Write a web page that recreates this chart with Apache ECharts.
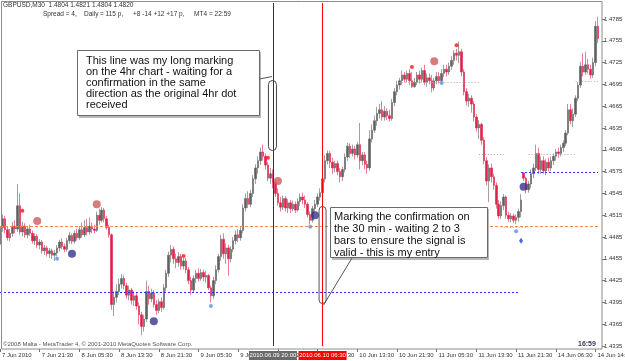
<!DOCTYPE html>
<html><head><meta charset="utf-8">
<script src="https://cdn.jsdelivr.net/npm/echarts@6/dist/echarts.min.js"></script>
<style>html,body{margin:0;padding:0;background:#fff}#c{width:625px;height:361px}</style>
</head><body><div id="c"></div>
<script>
// ---- data ----
const tickLabels = ['7 Jun 2010','7 Jun 21:30','8 Jun 05:30','8 Jun 13:30','8 Jun 21:30','9 Jun 05:30','9 Jun 13:30','9 Jun 21:30','10 Jun 05:30','10 Jun 13:30','10 Jun 21:30','11 Jun 05:30','11 Jun 13:30','11 Jun 21:30','14 Jun 06:30','14 Jun 14:30'];
// [open, close, low, high]
const candles = [
[1.4475,1.4498,1.4470,1.4502],[1.4498,1.4510,1.4492,1.4516],[1.4510,1.4495,1.4490,1.4514],[1.4495,1.4484,1.4480,1.4500],[1.4484,1.4490,1.4479,1.4496],
[1.4490,1.4500,1.4485,1.4506],[1.4500,1.4496,1.4490,1.4508],[1.4496,1.4528,1.4492,1.4558],[1.4528,1.4492,1.4488,1.4545],[1.4492,1.4500,1.4486,1.4506],
[1.4500,1.4488,1.4484,1.4504],[1.4488,1.4496,1.4483,1.4500],[1.4496,1.4490,1.4486,1.4502],[1.4490,1.4480,1.4476,1.4494],[1.4480,1.4486,1.4474,1.4490],
[1.4486,1.4474,1.4470,1.4489],[1.4474,1.4478,1.4468,1.4482],[1.4478,1.4466,1.4462,1.4481],[1.4466,1.4470,1.4460,1.4474],[1.4470,1.4462,1.4458,1.4473],
[1.4462,1.4466,1.4456,1.4470],[1.4466,1.4460,1.4455,1.4469],[1.4460,1.4463,1.4452,1.4467],[1.4463,1.4470,1.4458,1.4474],[1.4470,1.4478,1.4465,1.4481],
[1.4478,1.4472,1.4468,1.4483],[1.4472,1.4468,1.4464,1.4476],[1.4468,1.4480,1.4465,1.4484],[1.4480,1.4487,1.4476,1.4492],[1.4487,1.4479,1.4475,1.4490],
[1.4479,1.4490,1.4476,1.4494],[1.4490,1.4484,1.4480,1.4496],[1.4484,1.4495,1.4481,1.4500],[1.4495,1.4488,1.4484,1.4505],[1.4488,1.4498,1.4485,1.4508],
[1.4498,1.4492,1.4487,1.4510],[1.4492,1.4500,1.4488,1.4512],[1.4500,1.4496,1.4490,1.4505],[1.4496,1.4494,1.4490,1.4502],[1.4494,1.4515,1.4492,1.4520],
[1.4515,1.4508,1.4502,1.4524],[1.4508,1.4522,1.4505,1.4526],[1.4522,1.4510,1.4505,1.4525],[1.4510,1.4498,1.4495,1.4514],[1.4498,1.4488,1.4484,1.4502],
[1.4488,1.4392,1.4385,1.4490],[1.4392,1.4402,1.4376,1.4410],[1.4402,1.4410,1.4395,1.4420],[1.4410,1.4420,1.4405,1.4428],[1.4420,1.4428,1.4414,1.4434],
[1.4428,1.4418,1.4413,1.4432],[1.4418,1.4405,1.4400,1.4422],[1.4405,1.4412,1.4398,1.4418],[1.4412,1.4398,1.4392,1.4415],[1.4398,1.4404,1.4390,1.4410],
[1.4404,1.4390,1.4385,1.4408],[1.4390,1.4378,1.4365,1.4395],[1.4378,1.4362,1.4350,1.4382],[1.4362,1.4372,1.4355,1.4378],[1.4372,1.4410,1.4368,1.4425],
[1.4410,1.4400,1.4392,1.4418],[1.4400,1.4408,1.4395,1.4414],[1.4408,1.4392,1.4388,1.4412],[1.4392,1.4384,1.4378,1.4398],[1.4384,1.4396,1.4380,1.4400],
[1.4396,1.4388,1.4382,1.4402],[1.4388,1.4415,1.4385,1.4420],[1.4415,1.4435,1.4410,1.4440],[1.4435,1.4460,1.4430,1.4465],[1.4460,1.4468,1.4450,1.4474],
[1.4468,1.4455,1.4448,1.4472],[1.4455,1.4450,1.4442,1.4462],[1.4450,1.4458,1.4444,1.4464],[1.4458,1.4445,1.4440,1.4462],[1.4445,1.4452,1.4440,1.4456],
[1.4452,1.4440,1.4435,1.4456],[1.4440,1.4425,1.4420,1.4444],[1.4425,1.4412,1.4405,1.4430],[1.4412,1.4428,1.4408,1.4432],[1.4428,1.4435,1.4422,1.4440],
[1.4435,1.4428,1.4424,1.4442],[1.4428,1.4436,1.4425,1.4441],[1.4436,1.4430,1.4424,1.4440],[1.4430,1.4432,1.4422,1.4438],[1.4432,1.4415,1.4412,1.4434],
[1.4415,1.4404,1.4395,1.4418],[1.4404,1.4425,1.4400,1.4430],[1.4425,1.4440,1.4420,1.4446],[1.4440,1.4458,1.4436,1.4462],[1.4458,1.4482,1.4452,1.4488],
[1.4482,1.4462,1.4455,1.4490],[1.4462,1.4470,1.4448,1.4476],[1.4470,1.4455,1.4432,1.4474],[1.4455,1.4468,1.4450,1.4472],[1.4468,1.4480,1.4464,1.4485],
[1.4480,1.4488,1.4475,1.4494],[1.4488,1.4484,1.4478,1.4496],[1.4484,1.4494,1.4480,1.4500],[1.4494,1.4525,1.4490,1.4530],[1.4525,1.4538,1.4520,1.4545],
[1.4538,1.4530,1.4525,1.4548],[1.4530,1.4545,1.4526,1.4550],[1.4545,1.4565,1.4540,1.4570],[1.4565,1.4580,1.4558,1.4585],[1.4580,1.4590,1.4572,1.4596],
[1.4590,1.4602,1.4584,1.4608],[1.4602,1.4596,1.4590,1.4612],[1.4596,1.4584,1.4578,1.4600],[1.4584,1.4566,1.4562,1.4588],[1.4566,1.4572,1.4558,1.4580],
[1.4572,1.4560,1.4552,1.4578],[1.4560,1.4545,1.4540,1.4564],[1.4545,1.4532,1.4528,1.4552],[1.4532,1.4526,1.4520,1.4540],[1.4526,1.4538,1.4522,1.4542],
[1.4538,1.4525,1.4520,1.4541],[1.4525,1.4532,1.4518,1.4537],[1.4532,1.4524,1.4518,1.4536],[1.4524,1.4530,1.4520,1.4535],[1.4530,1.4522,1.4518,1.4534],
[1.4522,1.4534,1.4520,1.4538],[1.4534,1.4540,1.4528,1.4545],[1.4540,1.4536,1.4530,1.4546],[1.4536,1.4530,1.4525,1.4542],[1.4530,1.4516,1.4512,1.4533],
[1.4516,1.4508,1.4502,1.4520],[1.4508,1.4524,1.4505,1.4528],[1.4524,1.4530,1.4518,1.4536],[1.4530,1.4540,1.4526,1.4545],[1.4540,1.4546,1.4535,1.4552],
[1.4546,1.4565,1.4542,1.4570],[1.4565,1.4590,1.4560,1.4598],[1.4590,1.4600,1.4585,1.4604],[1.4600,1.4588,1.4580,1.4603],[1.4588,1.4580,1.4572,1.4594],
[1.4580,1.4586,1.4574,1.4590],[1.4586,1.4575,1.4570,1.4590],[1.4575,1.4568,1.4560,1.4580],[1.4568,1.4578,1.4562,1.4582],[1.4578,1.4595,1.4574,1.4600],
[1.4595,1.4610,1.4590,1.4615],[1.4610,1.4600,1.4594,1.4614],[1.4600,1.4606,1.4596,1.4612],[1.4606,1.4598,1.4592,1.4610],[1.4598,1.4612,1.4594,1.4616],
[1.4612,1.4590,1.4578,1.4642],[1.4590,1.4598,1.4584,1.4602],[1.4598,1.4585,1.4578,1.4602],[1.4585,1.4580,1.4572,1.4590],[1.4580,1.4620,1.4576,1.4632],
[1.4620,1.4632,1.4615,1.4640],[1.4632,1.4645,1.4628,1.4652],[1.4645,1.4655,1.4638,1.4664],[1.4655,1.4660,1.4648,1.4668],[1.4660,1.4650,1.4645,1.4672],
[1.4650,1.4658,1.4645,1.4665],[1.4658,1.4652,1.4646,1.4662],[1.4652,1.4648,1.4644,1.4660],[1.4648,1.4670,1.4645,1.4675],[1.4670,1.4685,1.4665,1.4690],
[1.4685,1.4694,1.4680,1.4700],[1.4694,1.4700,1.4688,1.4704],[1.4700,1.4708,1.4694,1.4714],[1.4708,1.4702,1.4698,1.4712],[1.4702,1.4710,1.4698,1.4714],
[1.4710,1.4700,1.4694,1.4716],[1.4700,1.4692,1.4690,1.4712],[1.4692,1.4698,1.4690,1.4704],[1.4698,1.4708,1.4694,1.4712],[1.4708,1.4702,1.4696,1.4714],
[1.4702,1.4714,1.4698,1.4718],[1.4714,1.4698,1.4694,1.4722],[1.4698,1.4704,1.4692,1.4710],[1.4704,1.4700,1.4695,1.4710],[1.4700,1.4690,1.4684,1.4708],
[1.4690,1.4700,1.4686,1.4704],[1.4700,1.4706,1.4695,1.4712],[1.4706,1.4700,1.4696,1.4712],[1.4700,1.4710,1.4698,1.4716],[1.4710,1.4716,1.4705,1.4722],
[1.4716,1.4712,1.4706,1.4722],[1.4712,1.4720,1.4708,1.4725],[1.4720,1.4728,1.4715,1.4734],[1.4728,1.4738,1.4722,1.4742],[1.4738,1.4735,1.4728,1.4744],
[1.4735,1.4740,1.4724,1.4754],[1.4740,1.4712,1.4706,1.4744],[1.4712,1.4685,1.4680,1.4716],[1.4685,1.4672,1.4666,1.4690],[1.4672,1.4676,1.4664,1.4682],
[1.4676,1.4668,1.4656,1.4680],[1.4668,1.4650,1.4644,1.4672],[1.4650,1.4635,1.4630,1.4654],[1.4635,1.4640,1.4620,1.4646],[1.4640,1.4618,1.4612,1.4642],
[1.4618,1.4590,1.4585,1.4622],[1.4590,1.4562,1.4556,1.4595],[1.4562,1.4580,1.4533,1.4585],[1.4580,1.4568,1.4560,1.4586],[1.4568,1.4556,1.4550,1.4572],
[1.4556,1.4530,1.4524,1.4560],[1.4530,1.4514,1.4510,1.4536],[1.4514,1.4528,1.4510,1.4534],[1.4528,1.4540,1.4522,1.4544],[1.4540,1.4515,1.4510,1.4542],
[1.4515,1.4510,1.4506,1.4520],[1.4510,1.4514,1.4505,1.4518],[1.4514,1.4508,1.4504,1.4517],[1.4508,1.4512,1.4503,1.4516],[1.4512,1.4520,1.4506,1.4524],
[1.4520,1.4536,1.4512,1.4544],[1.4573,1.4566,1.4562,1.4574],[1.4566,1.4550,1.4545,1.4568],[1.4550,1.4558,1.4546,1.4562],[1.4558,1.4572,1.4552,1.4578],
[1.4572,1.4580,1.4566,1.4586],[1.4580,1.4600,1.4576,1.4612],[1.4600,1.4578,1.4572,1.4608],[1.4578,1.4590,1.4572,1.4596],[1.4590,1.4576,1.4572,1.4596],
[1.4576,1.4588,1.4570,1.4592],[1.4588,1.4580,1.4575,1.4594],[1.4580,1.4590,1.4576,1.4596],[1.4590,1.4596,1.4584,1.4600],[1.4596,1.4602,1.4590,1.4606],
[1.4602,1.4600,1.4594,1.4608],[1.4600,1.4608,1.4596,1.4612],[1.4608,1.4614,1.4602,1.4618],[1.4614,1.4628,1.4610,1.4632],[1.4628,1.4660,1.4625,1.4668],
[1.4660,1.4645,1.4640,1.4668],[1.4645,1.4654,1.4636,1.4662],[1.4654,1.4676,1.4650,1.4680],[1.4676,1.4694,1.4672,1.4698],[1.4694,1.4720,1.4690,1.4726],
[1.4720,1.4712,1.4706,1.4738],[1.4712,1.4722,1.4708,1.4740],[1.4722,1.4716,1.4710,1.4730],[1.4716,1.4708,1.4703,1.4722],[1.4708,1.4725,1.4704,1.4732],
[1.4725,1.4775,1.4720,1.4782],[1.4775,1.4758,1.4752,1.4788]
];
const bigRedDots    = [[15,1.4507],[39,1.4530],[112,1.4562],[175,1.4727]];
const darkBlueDots  = [[29,1.4462],[62,1.4369],[127,1.4515],[211,1.4554]];
const smallRedDots  = [[9,1.4521],[74,1.4459],[108,1.4594],[166,1.4719],[184,1.4749]];
const lightBlueDots = [[23,1.4455],[85,1.4390],[125,1.4499],[178,1.4697],[208,1.4493]];
const diamondDots   = [[210,1.4480]];
const orangeLevel = 1.4535;
const blueLevels = [[0,209,1.4409],[210,241,1.4574]];          // [fromIdx, toIdx, price]
const grayStops  = [[161,193,1.4698],[193,203,1.4599],[203,213,1.4499],[213,232,1.4599],[232,241,1.4699]];
const vLines = [[110,'2010.06.09 20:00','#333333','#6a6a6a'],[130,'2010.06.10 06:30','#ff0000','#ff0000']];
const yTicks = {min:1.4335, max:1.4807, step:0.003};

// category labels (time of each M30 bar)
const pad = n => String(n).padStart(2,'0');
const categories = [];
(function(){
  let t = Date.UTC(2010,5,7,13,30);
  for (let i=0;i<candles.length;i++){
    const d = new Date(t);
    categories.push(d.getUTCFullYear()+'.'+pad(d.getUTCMonth()+1)+'.'+pad(d.getUTCDate())+' '+pad(d.getUTCHours())+':'+pad(d.getUTCMinutes()));
    t += 1800000;
    const n = new Date(t);
    if (n.getUTCDay()===5 && n.getUTCHours()===23) t = Date.UTC(2010,5,14,0,0);
  }
})();

const FF = "'Liberation Sans',Arial,sans-serif";
const SF = "6px " + FF;
const chart = echarts.init(document.getElementById('c'), null, {renderer:'canvas'});

const markData = [];
markData.push({yAxis: orangeLevel, lineStyle:{color:'#f08a62', type:[3,2], width:1}});
blueLevels.forEach(b => markData.push([{coord:[categories[b[0]], b[2]], lineStyle:{color:'#2a2aff', type:[2,2], width:1}}, {coord:[categories[b[1]], b[2]]}]));
grayStops.forEach(g => markData.push([{coord:[categories[g[0]], g[2]], lineStyle:{color:'#a8a8a8', type:[1,2], width:1}}, {coord:[categories[g[1]], g[2]]}]));
vLines.forEach(v => markData.push({xAxis: categories[v[0]], lineStyle:{color:v[2], type:'solid', width:1}}));

chart.setOption({
  animation:false,
  backgroundColor:'#ffffff',
  grid:{left:0, right:27, top:3, bottom:15, containLabel:false, outerBoundsMode:'none'},
  xAxis:{
    type:'category', data:categories, boundaryGap:false, offset:3,
    axisLine:{show:false},
    axisTick:{show:true, length:3, interval:(i)=>i%16===0, lineStyle:{color:'#707070'}},
    axisLabel:{interval:(i)=>i%16===0, formatter:(v,i)=>tickLabels[i/16]||'', align:'left', margin:3,
      padding:[0,0,0,2], fontSize:6, fontFamily:FF, color:'#333', hideOverlap:false},
    splitLine:{show:false}
  },
  yAxis:{
    type:'value', position:'right', min:yTicks.min, max:yTicks.max, interval:yTicks.step, offset:4,
    axisLine:{show:false},
    axisTick:{show:true, length:3, lineStyle:{color:'#707070'}},
    axisLabel:{formatter:v=>v.toFixed(4), showMaxLabel:false, showMinLabel:true, margin:2, fontSize:6, fontFamily:FF, color:'#333'},
    splitLine:{show:false}
  },
  series:[
    {type:'candlestick', data:candles, barWidth:2, clip:false,
     itemStyle:{color:'#606060', color0:'#e0224a', borderColor:'#606060', borderColor0:'#e0224a', borderWidth:0.6},
     markLine:{silent:true, symbol:['none','none'], label:{show:false}, animation:false, data:markData}},
    {type:'scatter', data:bigRedDots, symbolSize:8, itemStyle:{color:'#cd5c5c'}, z:5},
    {type:'scatter', data:darkBlueDots, symbolSize:8, itemStyle:{color:'#35358c'}, z:5},
    {type:'scatter', data:smallRedDots, symbolSize:4, itemStyle:{color:'#ff1010'}, z:5},
    {type:'scatter', data:lightBlueDots, symbolSize:4, itemStyle:{color:'#4f94e8'}, z:5},
    {type:'scatter', data:diamondDots, symbol:'diamond', symbolSize:[4,6], itemStyle:{color:'#2040e0'}, z:5}
  ]
});

// annotation overlay
const px = i => chart.convertToPixel({xAxisIndex:0}, categories[i]);
const xb = px(vLines[0][0]), xr = px(vLines[1][0]);
const CF = "11px 'Liberation Sans', 'DejaVu Sans', sans-serif";
const HF = "6.5px " + FF;
const g = [
  {type:'rect', shape:{x:1.5, y:1.5, width:600.5, height:347.5}, style:{fill:'none', stroke:'#8c8c8c', lineWidth:1}, z:100},
  {type:'text', left:3, top:2, style:{text:'GBPUSD,M30  1.4804 1.4821 1.4804 1.4820', font:HF, fill:'#333'}, z:100},
  {type:'text', left:43, top:11, style:{text:'Spread = 4,', font:HF, fill:'#333'}, z:100},
  {type:'text', left:84, top:11, style:{text:'Daily', font:HF, fill:'#333'}, z:100},
  {type:'text', left:100, top:11, style:{text:'= 115 p,', font:HF, fill:'#333'}, z:100},
  {type:'text', left:133, top:11, style:{text:'+8 -14 +12 +17 p,', font:HF, fill:'#333'}, z:100},
  {type:'text', left:194, top:11, style:{text:'MT4', font:HF, fill:'#333'}, z:100},
  {type:'text', left:209, top:11, style:{text:'= 22:59', font:HF, fill:'#333'}, z:100},
  {type:'text', left:3, top:341, style:{text:'\u00a92008 Malta - MetaTrader 4, \u00a9 2001-2010 MetaQuotes Software Corp.', font:SF, fill:'#555'}, z:100},
  {type:'text', left:578, top:341, style:{text:'16:59', font:"bold 7px "+FF, fill:'#3c3c5a'}, z:100},
  // box 1
  {type:'rect', shape:{x:79, y:52, width:182, height:66}, style:{fill:'#b8b8b8'}, z:101},
  {type:'rect', shape:{x:77.5, y:50.5, width:182, height:65}, style:{fill:'#ffffff', stroke:'#6a6a6a', lineWidth:1}, z:102},
  {type:'text', left:86, top:55, style:{text:'This line was my long marking\non the 4hr chart - waiting for a\nconfirmation in the same\ndirection as the original 4hr dot\nreceived', font:CF, lineHeight:11, fill:'#111'}, z:103},
  {type:'line', shape:{x1:259.5, y1:79, x2:xb-1, y2:76.5}, style:{stroke:'#555', lineWidth:1}, z:102},
  {type:'rect', shape:{x:xb-4.5, y:80.5, width:8, height:70, r:4}, style:{fill:'none', stroke:'#444', lineWidth:1}, z:102},
  // box 2
  {type:'rect', shape:{x:332, y:209, width:157, height:51}, style:{fill:'#b8b8b8'}, z:101},
  {type:'rect', shape:{x:330.5, y:207.5, width:157, height:50}, style:{fill:'#ffffff', stroke:'#6a6a6a', lineWidth:1}, z:102},
  {type:'text', left:334, top:211, style:{text:'Marking the confirmation on\nthe 30 min - waiting 2 to 3\nbars to ensure the signal is\nvalid - this is my entry', font:CF, lineHeight:12, fill:'#111'}, z:103},
  {type:'rect', shape:{x:xr-3.5, y:206.5, width:7, height:97, r:3.5}, style:{fill:'none', stroke:'#555', lineWidth:1}, z:102},
  {type:'line', shape:{x1:xr+1, y1:305, x2:352, y2:258}, style:{stroke:'#555', lineWidth:1}, z:102}
];
vLines.forEach(v => {
  const x = px(v[0]);
  g.push({type:'rect', shape:{x:x-24, y:351, width:48, height:9}, style:{fill:v[3]}, z:104});
  g.push({type:'text', x:x, y:355.5, style:{text:v[1], font:SF, fill:'#ffffff', align:'center', verticalAlign:'middle'}, z:105});
});
chart.setOption({graphic:g});
</script></body></html>
